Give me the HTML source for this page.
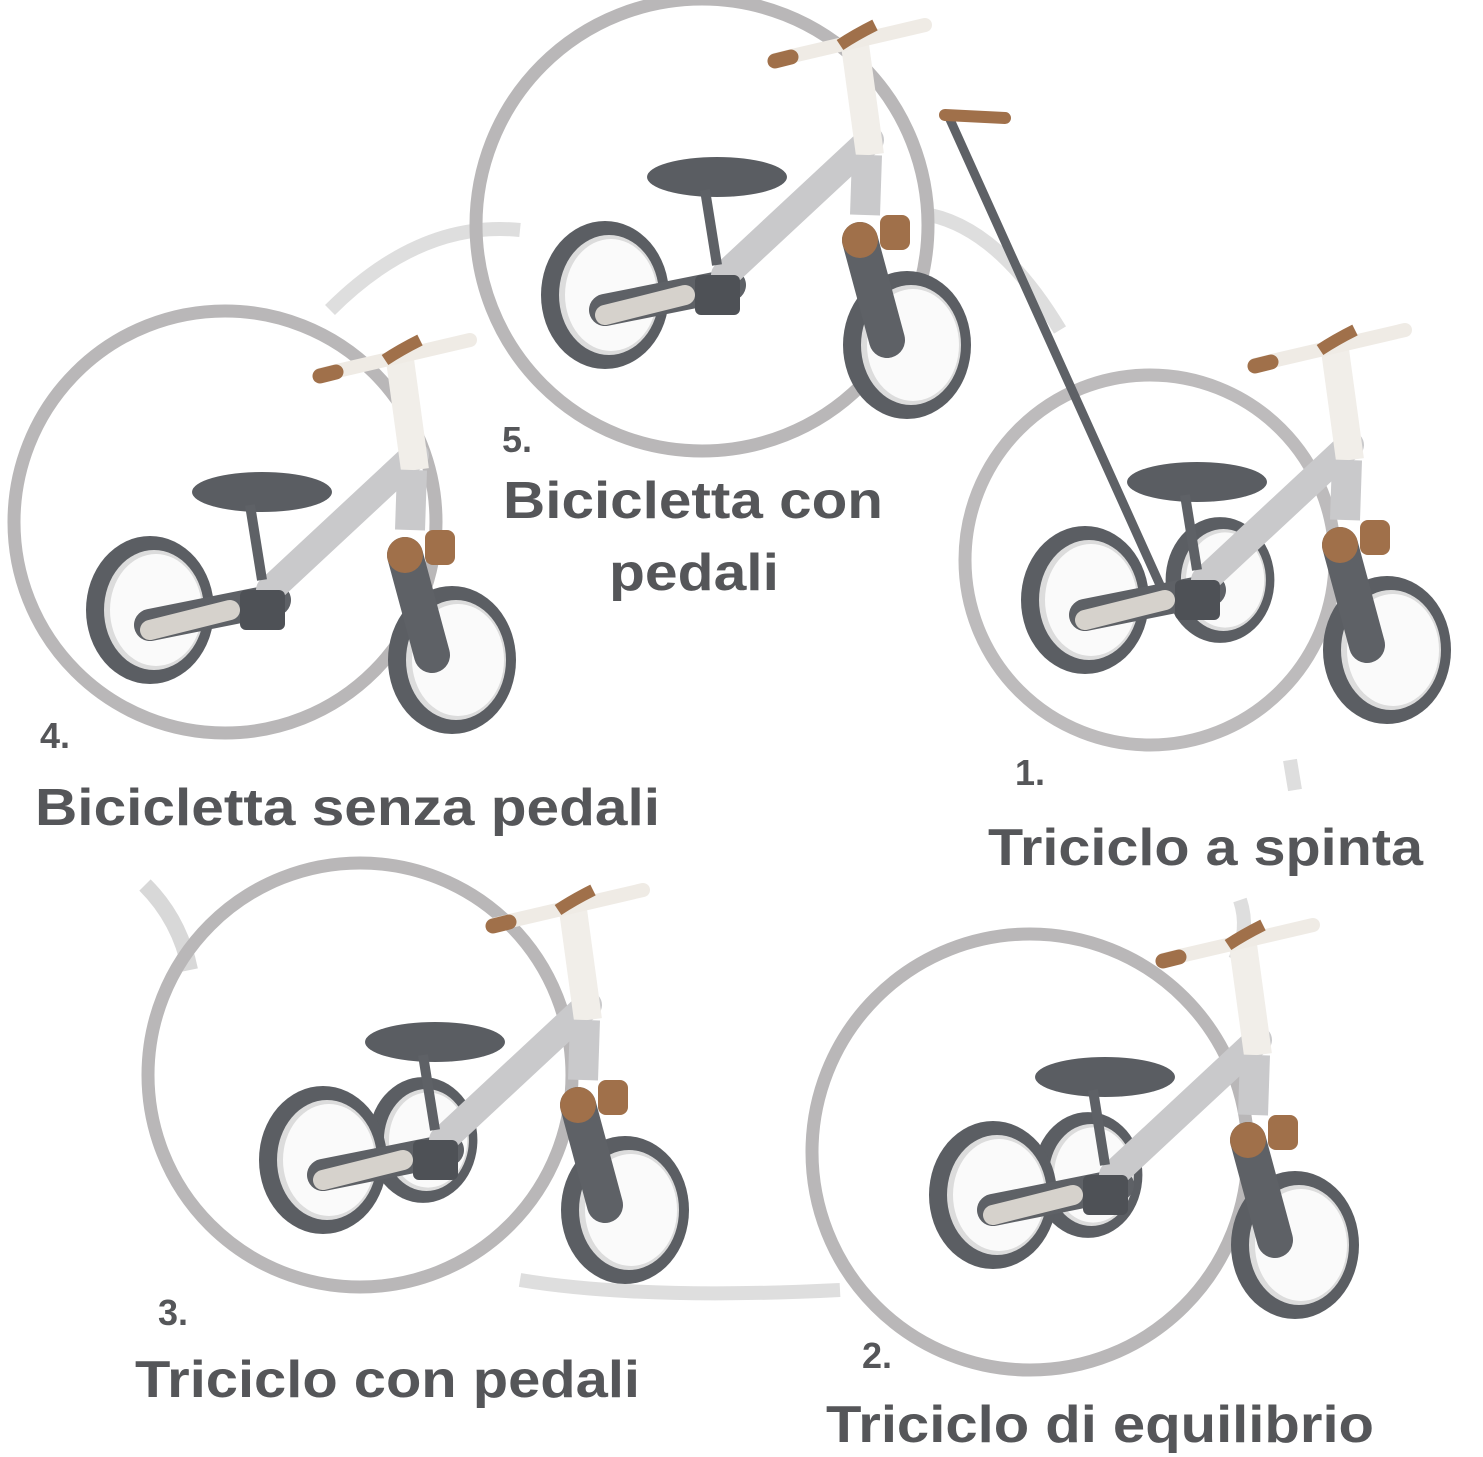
<!DOCTYPE html>
<html><head><meta charset="utf-8"><style>
html,body{margin:0;padding:0;background:#fff;}
svg{display:block}
text{font-family:"Liberation Sans",sans-serif;font-weight:bold;fill:#555659}
</style></head><body>
<svg width="1483" height="1457" viewBox="0 0 1483 1457" xmlns="http://www.w3.org/2000/svg">
<defs>
<g id="wheel">
<ellipse cx="0" cy="0" rx="64" ry="74" fill="#5b5e63"/>
<ellipse cx="4" cy="0" rx="50" ry="60" fill="#dcdcdc"/>
<ellipse cx="6" cy="0" rx="46" ry="56" fill="#fafafa"/>
</g>
<g id="bike">
<use href="#wheel" transform="translate(150,610)"/>
<path d="M150 625 L275 600" stroke="#5e6166" stroke-width="32" stroke-linecap="round"/>
<path d="M150 630 L230 610" stroke="#d6d2cc" stroke-width="20" stroke-linecap="round"/>
<path d="M270 590 L415 455" stroke="#c9c9cb" stroke-width="28" stroke-linecap="round"/>
<path d="M415 470 L400 360" stroke="#f1eee9" stroke-width="28"/>
<path d="M412 470 L410 530" stroke="#c9c9cb" stroke-width="30"/>
<path d="M320 375 L470 340" stroke="#efebe5" stroke-width="14" stroke-linecap="round"/>
<path d="M320 376 L336 372" stroke="#a0704a" stroke-width="15" stroke-linecap="round"/>
<path d="M385 360 Q400 350 420 340" stroke="#a0704a" stroke-width="12" fill="none"/>
<use href="#wheel" transform="translate(452,660)"/>
<path d="M405 555 L432 655" stroke="#5e6166" stroke-width="36" stroke-linecap="round"/>
<circle cx="405" cy="555" r="18" fill="#a0704a"/>
<rect x="425" y="530" width="30" height="35" rx="8" fill="#a0704a"/>
<ellipse cx="262" cy="492" rx="70" ry="20" fill="#5a5d62"/>
<path d="M250 505 L262 580" stroke="#5e6166" stroke-width="10"/>
<rect x="240" y="590" width="45" height="40" rx="6" fill="#4e5156"/>
</g>
</defs>
<g fill="none" stroke-width="13">
<path d="M330 310 Q420 220 520 230" stroke="#dedede" stroke-width="14"/>
<path d="M930 215 Q1000 230 1060 330" stroke="#dedede" stroke-width="14"/>
<path d="M145 885 Q180 920 190 970" stroke="#d8d8d8" stroke-width="16"/>
<path d="M520 1280 Q640 1300 840 1290" stroke="#dedede" stroke-width="14"/>
<path d="M1240 900 Q1250 930 1235 960" stroke="#dedede" stroke-width="14"/>
<path d="M1290 760 L1295 790" stroke="#dedede" stroke-width="14"/>
<circle cx="702" cy="225" r="226" stroke="#b9b7b8"/>
<circle cx="225" cy="522" r="211" stroke="#b9b7b8"/>
<circle cx="1150" cy="560" r="185" stroke="#bdbbbc"/>
<circle cx="360" cy="1075" r="212" stroke="#b9b7b8"/>
<circle cx="1030" cy="1152" r="218" stroke="#b9b7b8"/>
</g>
<use href="#bike"/>
<g transform="translate(455,-315)"><use href="#bike"/></g>
<g transform="translate(935,-10)">
<use href="#wheel" transform="translate(285,590) scale(0.85)"/>
<use href="#bike"/>
</g>
<path d="M948 115 L1160 585" stroke="#5e6166" stroke-width="9" stroke-linecap="round"/>
<path d="M945 115 L1005 118" stroke="#a0704a" stroke-width="12" stroke-linecap="round"/>
<g transform="translate(173,550)">
<use href="#wheel" transform="translate(250,590) scale(0.85)"/>
<use href="#bike"/>
</g>
<g transform="translate(843,585)">
<use href="#wheel" transform="translate(245,590) scale(0.85)"/>
<use href="#bike"/>
</g>
<text x="502" y="452" font-size="36">5.</text>
<text x="503" y="518" font-size="52" textLength="380" lengthAdjust="spacingAndGlyphs">Bicicletta con</text>
<text x="609" y="590" font-size="52" textLength="170" lengthAdjust="spacingAndGlyphs">pedali</text>
<text x="40" y="748" font-size="36">4.</text>
<text x="35" y="825" font-size="52" textLength="625" lengthAdjust="spacingAndGlyphs">Bicicletta senza pedali</text>
<text x="1015" y="785" font-size="36">1.</text>
<text x="988" y="865" font-size="52" textLength="435" lengthAdjust="spacingAndGlyphs">Triciclo a spinta</text>
<text x="158" y="1325" font-size="36">3.</text>
<text x="135" y="1397" font-size="52" textLength="505" lengthAdjust="spacingAndGlyphs">Triciclo con pedali</text>
<text x="862" y="1368" font-size="36">2.</text>
<text x="826" y="1442" font-size="52" textLength="548" lengthAdjust="spacingAndGlyphs">Triciclo di equilibrio</text>
</svg>
</body></html>
